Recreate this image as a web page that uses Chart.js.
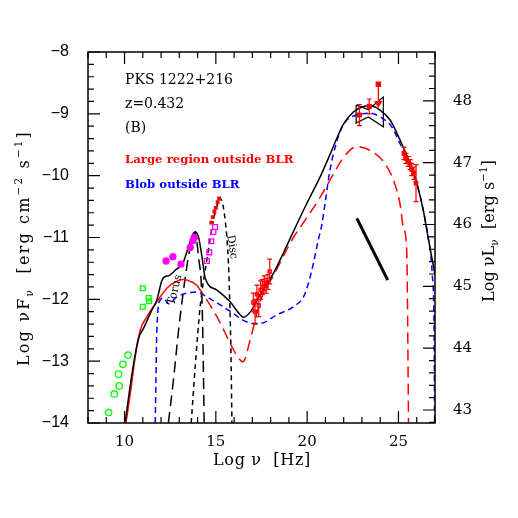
<!DOCTYPE html>
<html lang="en">

<head>
    <meta charset="UTF-8" />
    <title>PKS 1222+216 SED</title>
    <script src="https://cdn.jsdelivr.net/npm/chart.js"></script>
    <style>
        body {
            margin: 0;
            background: #fff;
        }
    </style>
</head>

<body>
    <canvas id="sed" width="518" height="518"></canvas>

    <script>
        // model curves (log nu, log nuFnu)
        const totalX = [10.04, 10.41, 10.77, 11.04, 11.5, 11.77, 12.05, 12.23, 12.41, 12.78, 13.23, 13.5, 13.78, 13.87, 14.05, 14.24, 14.42, 15.06, 15.78, 16.33, 16.51, 16.97, 17.33, 17.7, 18.15, 18.7, 19.25, 19.98, 20.71, 21.25, 21.62, 21.98, 22.53, 23.08, 23.44, 23.99, 24.54, 25.08, 25.63, 26.0, 26.36, 26.55, 27.0];
        const totalY = [-13.98, -13.2, -12.63, -12.47, -12.17, -12.01, -11.69, -11.63, -11.62, -11.53, -11.39, -11.15, -10.93, -10.91, -10.99, -11.31, -11.66, -11.85, -12.04, -12.25, -12.29, -12.17, -11.97, -11.8, -11.58, -11.25, -10.9, -10.45, -10.02, -9.66, -9.4, -9.17, -8.97, -8.88, -8.87, -8.94, -9.1, -9.42, -9.8, -10.12, -10.56, -10.88, -11.6];

        const redSolidX = [10.08, 10.37, 10.59, 10.86, 11.23, 11.77, 12.32, 12.78, 13.23, 13.69, 13.96];
        const redSolidY = [-14.0, -13.41, -12.92, -12.5, -12.28, -12.04, -11.82, -11.72, -11.68, -11.72, -11.77];
        const redDashX = [13.96, 14.51, 15.24, 15.78, 16.24, 16.48, 16.88, 17.25, 17.6, 18.15, 18.7, 19.25, 19.98, 20.71, 21.35, 21.98, 22.72, 23.44, 24.17, 24.72, 25.08, 25.26, 25.45, 25.48, 25.55];
        const redDashY = [-11.77, -12.01, -12.38, -12.71, -12.95, -13.01, -12.66, -12.22, -11.9, -11.62, -11.3, -11.0, -10.68, -10.35, -10.02, -9.71, -9.53, -9.59, -9.77, -10.07, -10.45, -10.83, -11.2, -11.69, -14.0];

        const blueX = [11.68, 11.72, 11.77, 11.96, 12.14, 12.41, 12.87, 13.42, 13.96, 14.51, 15.24, 15.97, 16.5, 17.06, 17.43, 18.34, 19.25, 19.8, 20.07, 20.34, 20.61, 20.8, 20.98, 21.25, 21.62, 21.9, 22.17, 22.72, 23.44, 23.99, 24.63, 25.08, 25.63, 26.0, 26.36, 26.6, 26.85, 26.95, 26.98];
        const blueY = [-14, -13.3, -12.5, -12.01, -11.98, -12.07, -11.96, -11.9, -11.88, -11.96, -12.09, -12.23, -12.34, -12.39, -12.39, -12.25, -12.12, -11.96, -11.74, -11.42, -11.04, -10.8, -10.45, -9.91, -9.45, -9.22, -9.1, -9.02, -8.99, -9.05, -9.21, -9.48, -9.8, -10.12, -10.56, -10.95, -11.6, -12.5, -14];

        const torusX = [12.4, 12.68, 12.96, 13.23, 13.5, 13.78, 13.86, 14.05, 14.24, 14.3, 14.36];
        const torusY = [-14, -13.3, -12.5, -11.85, -11.31, -10.95, -10.91, -11.31, -12.0, -12.8, -14];

        const discX = [13.65, 13.87, 14.14, 14.51, 14.87, 15.1, 15.24, 15.51, 15.69, 15.78, 15.84, 15.88];
        const discY = [-14, -13.09, -12.12, -11.36, -10.72, -10.45, -10.37, -10.72, -11.42, -12.23, -13.09, -14];

        const bowX = [22.68, 23.35, 24.17, 24.17, 23.35, 22.68, 22.68];
        const bowY = [-8.86, -8.93, -8.73, -9.21, -9.05, -9.15, -8.86];

        const slopeX = [22.72, 24.41];
        const slopeY = [-10.69, -11.69];

        // data points
        const greenCircX = [9.13, 9.44, 9.67, 9.71, 9.91, 10.19];
        const greenCircY = [-13.83, -13.53, -13.21, -13.4, -13.05, -12.9];
        const greenSqX = [11.0, 11.0, 11.32, 11.35];
        const greenSqY = [-11.82, -12.12, -11.98, -12.03];
        const magCircX = [12.27, 12.65, 13.09, 13.6, 13.75, 13.82];
        const magCircY = [-11.38, -11.31, -11.43, -11.16, -11.05, -11.0];
        const magSqX = [14.51, 14.64, 14.75, 14.87, 14.96];
        const magSqY = [-11.38, -11.24, -11.06, -10.91, -10.83];
        const optX = [14.75, 14.83, 14.92, 15.0, 15.1, 15.18];
        const optY = [-10.76, -10.67, -10.58, -10.52, -10.43, -10.37];
        const xrayX = [17.05, 17.15, 17.25, 17.35, 17.45, 17.55, 17.65, 17.75, 17.85, 17.95];
        const xrayY = [-12.05, -12.2, -11.92, -12.1, -11.85, -11.8, -11.74, -11.78, -11.72, -11.55];
        const xrayErr = [0.15, 0.2, 0.15, 0.18, 0.15, 0.12, 0.12, 0.12, 0.12, 0.2];
        const gammaX = [22.86, 23.4];
        const gammaY = [-9.02, -8.88];
        const gammaErr = [0.17, 0.12];
        const ulX = 23.9, ulY = -8.52, ulArrow = 0.31;
        const tevX = [25.3, 25.41, 25.54, 25.63, 25.72, 25.85, 25.96];
        const tevY = [-9.64, -9.72, -9.77, -9.82, -9.9, -9.96, -10.12];
        const tevErr = [0.1, 0.08, 0.08, 0.08, 0.1, 0.1, 0.3];

        // axes
        const xMajor = [10, 15, 20, 25];
        const yMajor = [-14, -13, -12, -11, -10, -9, -8];
        const lumMajor = [43, 44, 45, 46, 47, 48];
        const lumOffset = 56.79; // log nuLnu - log nuFnu

        const pts = (xs, ys) => xs.map((x, i) => ({ x, y: ys[i] }));

        function curve(xs, ys, color, dash, width) {
            return {
                data: pts(xs, ys), showLine: true, borderColor: color, borderWidth: width || 1.5,
                borderDash: dash || [], pointRadius: 0, cubicInterpolationMode: 'monotone', fill: false
            };
        }
        function marks(xs, ys, color, style, r, filled, errs) {
            return {
                data: pts(xs, ys), showLine: false, pointStyle: style, pointRadius: r,
                borderColor: color, backgroundColor: filled ? color : 'rgba(0,0,0,0)', pointBorderWidth: 1.3,
                errors: errs
            };
        }

        const SERIF = '"DejaVu Serif", serif';

        // rich text, stretched with letter spacing to a target length
        function rich(ctx, parts, size, x, y, rot, target) {
            ctx.save();
            ctx.translate(x, y);
            ctx.rotate(rot || 0);
            ctx.textBaseline = 'middle';
            ctx.textAlign = 'left';
            const fontOf = p => (p[1] ? size * 0.65 : size) + 'px ' + SERIF;
            let w = 0, n = 0;
            parts.forEach(p => {
                ctx.font = fontOf(p);
                w += ctx.measureText(p[0]).width;
                n += p[0].length;
            });
            const sp = target ? (target - w) / n : 0;
            let cx = -(w + sp * n) / 2;
            parts.forEach(p => {
                ctx.font = fontOf(p);
                const dy = p[1] === 'sub' ? size * 0.3 : p[1] === 'sup' ? -size * 0.38 : 0;
                for (const ch of p[0]) {
                    ctx.fillText(ch, cx, dy);
                    cx += ctx.measureText(ch).width + sp;
                }
            });
            ctx.restore();
        }

        const decor = {
            id: 'decor',
            afterDatasetsDraw(chart) {
                const { ctx, chartArea: a, scales } = chart;
                const sx = scales.x, sy = scales.y, sl = scales.y2;
                ctx.save();
                // error bars
                ctx.strokeStyle = '#ff0000';
                ctx.lineWidth = 1.2;
                chart.data.datasets.forEach(ds => {
                    if (!ds.errors) return;
                    ds.data.forEach((p, i) => {
                        const px = sx.getPixelForValue(p.x);
                        const y1 = sy.getPixelForValue(p.y - ds.errors[i]);
                        const y2 = sy.getPixelForValue(p.y + ds.errors[i]);
                        ctx.beginPath();
                        ctx.moveTo(px, y1); ctx.lineTo(px, y2);
                        ctx.moveTo(px - 2.5, y1); ctx.lineTo(px + 2.5, y1);
                        ctx.moveTo(px - 2.5, y2); ctx.lineTo(px + 2.5, y2);
                        ctx.stroke();
                    });
                });
                // frame
                ctx.strokeStyle = '#000';
                ctx.lineWidth = 1.5;
                ctx.strokeRect(a.left, a.top, a.right - a.left, a.bottom - a.top);
                // ticks
                ctx.lineWidth = 1.2;
                ctx.beginPath();
                for (let v = 8; v <= 27; v++) {
                    const px = sx.getPixelForValue(v);
                    const len = v % 5 === 0 ? 12 : 6;
                    ctx.moveTo(px, a.bottom); ctx.lineTo(px, a.bottom - len);
                    ctx.moveTo(px, a.top); ctx.lineTo(px, a.top + len);
                }
                for (let k = -70; k <= -40; k++) {
                    const py = sy.getPixelForValue(k / 5);
                    const len = k % 5 === 0 ? 12 : 6;
                    ctx.moveTo(a.left, py); ctx.lineTo(a.left + len, py);
                }
                for (let k = 214; k <= 244; k++) {
                    const v = k / 5;
                    if (v < sl.min || v > sl.max) continue;
                    const py = sl.getPixelForValue(v);
                    const len = k % 5 === 0 ? 12 : 6;
                    ctx.moveTo(a.right, py); ctx.lineTo(a.right - len, py);
                }
                ctx.stroke();

                // texts
                ctx.fillStyle = '#000';
                ctx.textBaseline = 'alphabetic';
                ctx.textAlign = 'left';
                ctx.font = '14px ' + SERIF;
                ctx.fillText('PKS 1222+216', 125, 84);
                ctx.fillText('z=0.432', 125, 108);
                ctx.fillText('(B)', 125, 132);
                ctx.font = 'bold 11.7px ' + SERIF;
                ctx.fillStyle = '#ff0000';
                ctx.fillText('Large region outside BLR', 125, 163);
                ctx.fillStyle = '#0000ff';
                ctx.fillText('Blob outside BLR', 125, 188);
                ctx.fillStyle = '#000';
                ctx.font = '11px ' + SERIF;
                ctx.textAlign = 'center';
                ctx.textBaseline = 'middle';
                ctx.save();
                ctx.translate(175, 290);
                ctx.rotate(-1.32);
                ctx.fillText('Torus', 0, 0);
                ctx.restore();
                ctx.save();
                ctx.translate(232, 247);
                ctx.rotate(1.42);
                ctx.fillText('Disc', 0, 0);
                ctx.restore();

                // axis titles
                rich(ctx, [['Log ν  [Hz]']], 16, 262, 461, 0, 98);
                rich(ctx, [['Log νF'], ['ν', 'sub'], ['  [erg cm'], ['−2', 'sup'], [' s'], ['−1', 'sup'], [']']], 16, 25, 248, -Math.PI / 2, 236);
                rich(ctx, [['Log νL'], ['ν', 'sub'], ['  [erg s'], ['−1', 'sup'], [']']], 16, 490, 231, -Math.PI / 2, 142);
                ctx.restore();
            }
        };

        const ctx = document.getElementById('sed').getContext('2d');
        new Chart(ctx, {
            type: 'scatter',
            data: {
                datasets: [
                    marks(greenCircX, greenCircY, '#00ff00', 'circle', 3.2, false),
                    marks(greenSqX, greenSqY, '#00ff00', 'rect', 3.4, false),
                    marks(magCircX, magCircY, '#ff00ff', 'circle', 3, true),
                    marks(magSqX, magSqY, '#ff00ff', 'rect', 3.4, false),
                    marks(optX, optY, '#ff0000', 'rect', 1.8, true),
                    marks(xrayX, xrayY, '#ff0000', 'rect', 2.2, false, xrayErr),
                    marks(gammaX, gammaY, '#ff0000', 'rect', 2.6, true, gammaErr),
                    marks(tevX, tevY, '#ff0000', 'rect', 2.4, true, tevErr),
                    {
                        data: [{ x: ulX, y: ulY }, { x: ulX, y: ulY - ulArrow }], showLine: true,
                        borderColor: '#ff0000', backgroundColor: '#ff0000', borderWidth: 1.3,
                        pointStyle: ['rect', 'triangle'], pointRotation: [0, 180], pointRadius: [3, 3.5]
                    },
                    curve(totalX, totalY, '#000000', [], 1.5),
                    curve(redSolidX, redSolidY, '#ff0000', [], 1.5),
                    curve(redDashX, redDashY, '#ff0000', [11, 6], 1.5),
                    curve(blueX, blueY, '#0000ff', [6, 4], 1.5),
                    curve(torusX, torusY, '#000000', [11, 6], 1.5),
                    curve(discX, discY, '#000000', [5, 4], 1.5),
                    { data: pts(bowX, bowY), showLine: true, borderColor: '#000', borderWidth: 1.2, pointRadius: 0, tension: 0 },
                    { data: pts(slopeX, slopeY), showLine: true, borderColor: '#000', borderWidth: 3, pointRadius: 0 }
                ]
            },
            options: {
                responsive: false,
                animation: false,
                devicePixelRatio: 1,
                layout: { padding: { top: 52, left: 0, right: 0, bottom: 0 } },
                plugins: { legend: { display: false }, tooltip: { enabled: false } },
                scales: {
                    x: {
                        type: 'linear', position: 'bottom', min: 8, max: 27,
                        grid: { display: false }, border: { display: false },
                        afterFit: s => { s.height = 95; },
                        afterBuildTicks: s => { s.ticks = xMajor.map(v => ({ value: v })); },
                        ticks: { color: '#000', padding: 2, maxRotation: 0, font: { family: 'DejaVu Serif', size: 15 } }
                    },
                    y: {
                        type: 'linear', position: 'left', min: -14, max: -8,
                        grid: { display: false }, border: { display: false },
                        afterFit: s => { s.width = 88; },
                        afterBuildTicks: s => { s.ticks = yMajor.map(v => ({ value: v })); },
                        ticks: {
                            color: '#000', padding: 11, font: { family: 'Liberation Sans', size: 16 },
                            callback: v => String(v).replace('-', '−')
                        }
                    },
                    y2: {
                        type: 'linear', position: 'right', min: -14 + lumOffset, max: -8 + lumOffset,
                        grid: { display: false }, border: { display: false },
                        afterFit: s => { s.width = 83; },
                        afterBuildTicks: s => { s.ticks = lumMajor.map(v => ({ value: v })); },
                        ticks: { color: '#000', padding: 10, font: { family: 'DejaVu Serif', size: 15 } }
                    }
                }
            },
            plugins: [decor]
        });
    </script>
</body>

</html>
